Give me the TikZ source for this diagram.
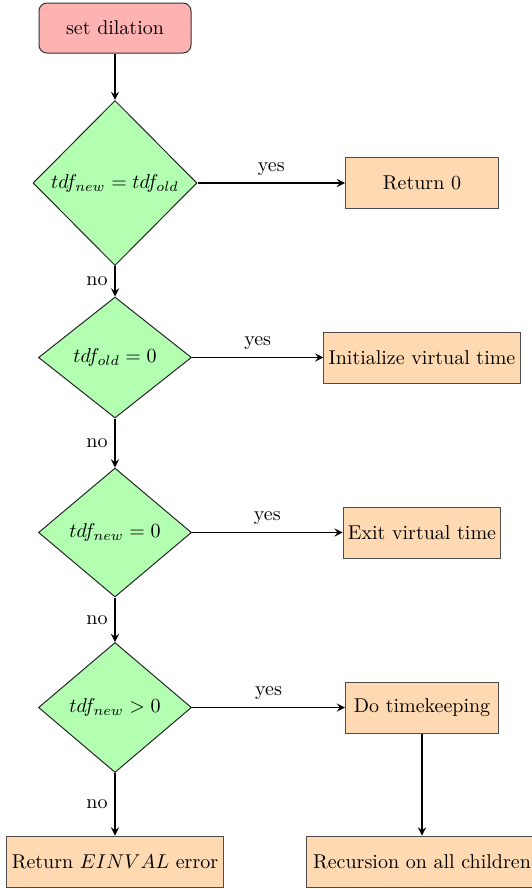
\documentclass[tikz,border=0pt]{standalone}
\usetikzlibrary{shapes.geometric}
\begin{document}
\begin{tikzpicture}[x=0.5pt,y=-0.5pt,
  every node/.style={font=\normalsize},
  startbox/.style={rectangle,rounded corners=4pt,draw=black!80,line width=0.5pt,fill=red!30,
    minimum width=76pt,minimum height=25pt,inner sep=3.33pt},
  decision/.style={diamond,draw=black!85,line width=0.5pt,fill=green!30,inner sep=0pt},
  process/.style={rectangle,draw=black!70,line width=0.5pt,fill=orange!30,
    minimum width=76.5pt,minimum height=25.5pt,inner sep=3.33pt},
  flow/.style={->,>=stealth,line width=0.8pt},
  lab/.style={font=\normalsize}]
\useasboundingbox (0,0) rectangle (531,889);

% main column of decisions
\node[startbox] (start) at (115,28) {set dilation};
\node[decision,minimum width=82pt,minimum height=82.5pt] (d1) at (115,183) {$tdf_{new}=tdf_{old}$};
\node[decision,minimum width=76.5pt,minimum height=60.5pt] (d2) at (115,357.5) {$tdf_{old}=0$};
\node[decision,minimum width=76.5pt,minimum height=64.5pt] (d3) at (115,532.5) {$tdf_{new}=0$};
\node[decision,minimum width=76.5pt,minimum height=65pt] (d4) at (115,707.5) {$tdf_{new}>0$};
\node[process,inner xsep=2.4pt] (einval) at (115,861.5) {Return $EINVAL$ error};

% actions on the right
\node[process] (ret) at (422,183) {Return 0};
\node[process,inner xsep=2.4pt] (init) at (422,357.5) {Initialize virtual time};
\node[process,inner xsep=2.4pt] (exit) at (422,532.5) {Exit virtual time};
\node[process] (keep) at (422,707.5) {Do timekeeping};
\node[process] (rec) at (422,861.5) {Recursion on all children};

% connectors
\draw[flow] (start) -- (d1);
\draw[flow] (d1) -- node[lab,left] {no} (d2);
\draw[flow] (d2) -- node[lab,left] {no} (d3);
\draw[flow] (d3) -- node[lab,left] {no} (d4);
\draw[flow] (d4) -- node[lab,left] {no} (einval);
\draw[flow] (d1) -- node[lab,above] {yes} (ret);
\draw[flow] (d2) -- node[lab,above] {yes} (init);
\draw[flow] (d3) -- node[lab,above] {yes} (exit);
\draw[flow] (d4) -- node[lab,above] {yes} (keep);
\draw[flow] (keep) -- (rec);
\end{tikzpicture}
\end{document}
